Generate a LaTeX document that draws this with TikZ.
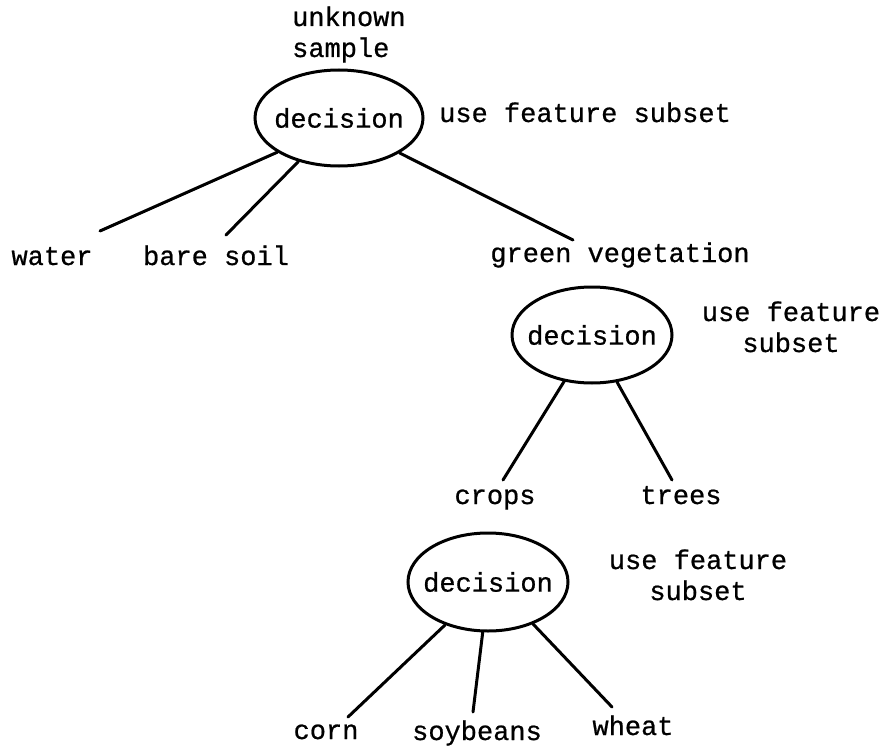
\documentclass[tikz,border=0pt]{standalone}
\usepackage{fontspec}
\setmainfont{Liberation Mono}[FakeBold=0.7]
\usetikzlibrary{shapes.geometric}
\tikzset{
  txt/.style={inner sep=0pt, font=\fontsize{27}{31}\selectfont},
  leaf/.style={txt, anchor=base},
  decbox/.style={draw, ellipse, line width=3pt, inner sep=0pt, font=\fontsize{27}{31}\selectfont},
  branch/.style={line width=3pt, line cap=round}
}
\begin{document}
\begin{tikzpicture}[x=1pt,y=-1pt]
\fill[white] (0,0) rectangle (889,749);
\useasboundingbox (0,0) rectangle (889,749);

% top decision
\node[txt, anchor=base west, align=left] (unk) at (292,57) {unknown\\sample};
\node[decbox, minimum width=168pt, minimum height=96pt] (d1) at (339,118) {\makebox[0pt]{decision}};
\node[txt, anchor=base west] (u1) at (439,122) {use feature subset};

\node[leaf] (water) at (52,265) {water};
\node[leaf] (soil) at (216,265) {bare soil};
\node[leaf] (green) at (620,262) {green vegetation};

\draw[branch] (d1.209) -- ([shift={(48,-34)}]water.base);
\draw[branch] (d1.227) -- ([shift={(10,-30)}]soil.base);
\draw[branch] (d1.330) -- ([shift={(-47,-22)}]green.base);

% second decision
\node[decbox, minimum width=160pt, minimum height=96pt] (d2) at (592,335) {\makebox[0pt]{decision}};
\node[txt, anchor=base, align=center] (u2) at (791,352) {use feature\\subset};

\node[leaf] (crops) at (495,504) {crops};
\node[leaf] (trees) at (681,504) {trees};

\draw[branch] (d2.239) -- ([shift={(8,-24)}]crops.base);
\draw[branch] (d2.298) -- ([shift={(-9,-24)}]trees.base);

% third decision
\node[decbox, minimum width=160pt, minimum height=98pt] (d3) at (488,582) {\makebox[0pt]{decision}};
\node[txt, anchor=base, align=center] (u3) at (698,600) {use feature\\subset};

\node[leaf] (corn) at (326,739) {corn};
\node[leaf] (soy) at (477,740) {soybeans};
\node[leaf] (wheat) at (633,735) {wheat};

\draw[branch] (d3.225) -- ([shift={(22,-22)}]corn.base);
\draw[branch] (d3.264) -- ([shift={(-4,-28)}]soy.base);
\draw[branch] (d3.317) -- ([shift={(-21,-28)}]wheat.base);
\end{tikzpicture}
\end{document}
